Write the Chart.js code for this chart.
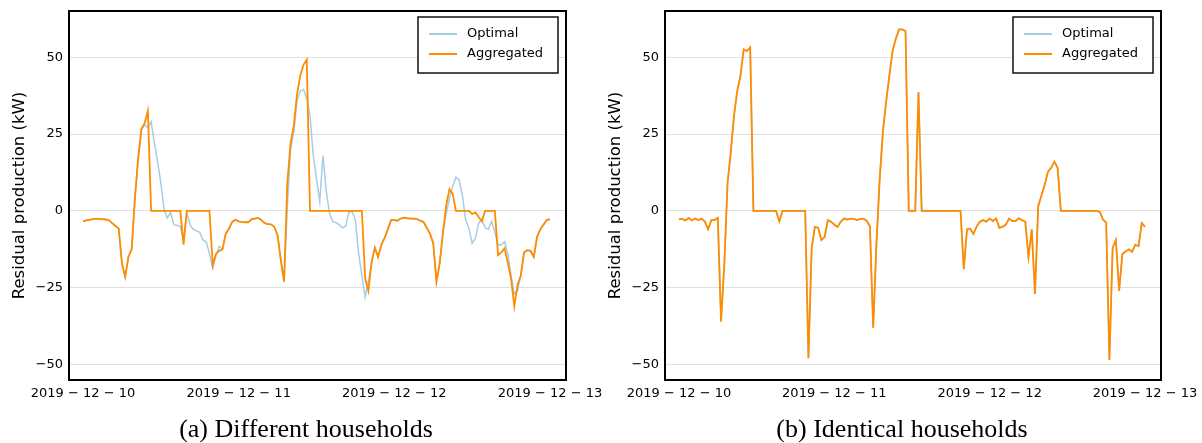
<!DOCTYPE html>
<html>
<head>
<meta charset="utf-8">
<script src="https://cdn.jsdelivr.net/npm/chart.js@4.4.1/dist/chart.umd.min.js"></script>
<style>
  html, body { margin: 0; padding: 0; background: #fff; }
  #wrap { position: relative; width: 1202px; height: 443px; overflow: hidden; }
  canvas { position: absolute; top: 0; }
  #chartA { left: 0; }
  #chartB { left: 600px; }
</style>
</head>
<body>
<div id="wrap">
  <canvas id="chartA" width="620" height="443"></canvas>
  <canvas id="chartB" width="602" height="443"></canvas>
</div>
<script>
// sample times: hours after 2019-12-10 00:00, one value every 30 minutes
const hours = Array.from({ length: 145 }, (_, i) => i / 2);
const dayTicks = [0, 24, 48, 72];
const dayLabels = ['2019 \u2212 12 \u2212 10', '2019 \u2212 12 \u2212 11', '2019 \u2212 12 \u2212 12', '2019 \u2212 12 \u2212 13'];
const yTicks = [-50, -25, 0, 25, 50];

// (a) different households, residual production in kW
const optimalA = [
  -3.4, -3.1, -2.9, -2.7, -2.6, -2.6, -2.7, -2.8, -3.1, -4.0, -4.9, -5.7,
  -17, -21.5, -15, -12.5, 4, 17, 26.5, 28, 27, 29, 22, 16,
  9, 0.5, -2.3, -0.5, -4.5, -4.7, -5, -9.5, -0.5, -4.5, -6, -6.5,
  -7, -9.5, -10, -14, -18.7, -14.5, -11.5, -12.5, -7.5, -5.8, -3.6, -2.9,
  -3.4, -3.6, -3.7, -3.7, -2.7, -2.5, -2.3, -3, -4, -4.3, -4.4, -5.2,
  -7.9, -16, -23, 1, 20, 25.6, 36, 39, 39.5, 36.5, 31, 18,
  10.5, 3, 18, 6.5, -0.8, -3.4, -3.8, -4.5, -5.5, -5, -0.3, -0.3,
  -3, -14, -21, -28, -23, -17, -12, -15, -11, -8.8, -6, -3,
  -3, -3.2, -2.5, -2.2, -2.4, -2.5, -2.5, -2.7, -3.2, -3.6, -5.5, -7.4,
  -10.5, -23, -17, -7, -1, 4, 8, 11, 10, 5, -3, -5.7,
  -10.5, -9, -4, -2.7, -5.5, -6, -3.5, -7, -11, -11, -10, -14,
  -21, -27, -26, -21, -13.5, -12.8, -13, -15, -8.5, -6, -4.5, -3,
  -2.7
];
const aggregatedA = [
  -3.4, -3.1, -2.9, -2.7, -2.6, -2.6, -2.7, -2.8, -3.1, -4.0, -4.9, -5.7,
  -17, -21.5, -15, -12.5, 4, 17, 26.5, 28.5, 32.5, 0, 0, 0,
  0, 0, 0, 0, 0, 0, 0, -11, 0, 0, 0, 0,
  0, 0, 0, 0, -17.6, -14, -13, -12.5, -7.5, -5.8, -3.6, -2.9,
  -3.4, -3.6, -3.7, -3.7, -2.7, -2.5, -2.3, -3, -4, -4.3, -4.4, -5.2,
  -7.9, -16, -23, 9, 22, 27.8, 38, 44, 47.5, 49.2, 0, 0,
  0, 0, 0, 0, 0, 0, 0, 0, 0, 0, 0, 0,
  0, 0, 0, -22, -26, -16.6, -12, -15, -11, -8.8, -6, -3,
  -3, -3.2, -2.5, -2.2, -2.4, -2.5, -2.5, -2.7, -3.2, -3.6, -5.5, -7.4,
  -10.5, -23, -17, -7, 1.8, 7, 5.5, 0, 0, 0, 0, 0,
  -1, -0.5, -2, -3.4, 0, 0, 0, 0, -14.4, -13.5, -12.2, -17,
  -22, -31, -24, -21, -13.5, -12.8, -13, -15, -8.5, -6, -4.5, -3,
  -2.7
];

// (b) identical households: optimal and aggregated coincide
const identicalB = [
  -2.8, -2.6, -3.1, -2.3, -3.1, -2.5, -3.0, -2.5, -3.5, -6, -3, -3,
  -2.3, -36, -17.6, 9, 19, 31, 39, 44, 52.5, 52, 53.2, 0,
  0, 0, 0, 0, 0, 0, 0, -3.4, 0, 0, 0, 0,
  0, 0, 0, 0, -47.9, -12, -5.2, -5.5, -9.5, -8.5, -3, -3.5,
  -4.5, -5.2, -3.5, -2.5, -2.8, -2.5, -2.6, -3.0, -2.6, -2.5, -3.2, -5,
  -38, -11, 10, 25.6, 35.4, 44, 52, 56, 59, 59, 58.5, 0,
  0, 0, 38.6, 0, 0, 0, 0, 0, 0, 0, 0, 0,
  0, 0, 0, 0, -19, -6, -5.8, -7.5, -5, -3.5, -3, -3.5,
  -2.5, -3.3, -2.5, -5.5, -5.2, -4.5, -2.5, -3.3, -3.3, -2.4, -3, -3.5,
  -15, -6, -27, 1.5, 5, 8.5, 12.7, 14, 16, 14, 0, 0,
  0, 0, 0, 0, 0, 0, 0, 0, 0, 0, -0.3, -2.8,
  -3.8, -48.5, -12, -9.5, -26, -14, -13.2, -12.5, -13.3, -11, -11.5, -4,
  -5.2
];

const OPTIMAL_COLOR = '#a6cee3';
const AGGREGATED_COLOR = '#ff8c00';
const SANS = '"DejaVu Sans"';

// frame, date labels, axis title, boxed legend and caption
const decor = {
  id: 'decor',
  afterDraw(chart, args, opts) {
    const { ctx, chartArea: a, scales: { x } } = chart;
    ctx.save();
    ctx.fillStyle = '#000';
    ctx.font = '13px ' + SANS;
    ctx.textAlign = 'center';
    ctx.textBaseline = 'alphabetic';
    dayTicks.forEach((h, i) => ctx.fillText(dayLabels[i], x.getPixelForValue(h), a.bottom + 17));

    ctx.save();
    ctx.translate(opts.titleX, (a.top + a.bottom) / 2);
    ctx.rotate(-Math.PI / 2);
    ctx.font = '16.5px ' + SANS;
    ctx.textBaseline = 'middle';
    ctx.fillText('Residual production (kW)', 0, 0);
    ctx.restore();

    ctx.strokeStyle = '#000';
    ctx.lineWidth = 2;
    ctx.strokeRect(a.left, a.top, a.right - a.left, a.bottom - a.top);

    const bw = 140, bh = 56;
    const bx = a.right - 8 - bw, by = a.top + 6;
    ctx.fillStyle = '#fff';
    ctx.fillRect(bx, by, bw, bh);
    ctx.strokeStyle = '#111';
    ctx.lineWidth = 1.5;
    ctx.strokeRect(bx, by, bw, bh);
    [['Optimal', OPTIMAL_COLOR], ['Aggregated', AGGREGATED_COLOR]].forEach(([label, color], i) => {
      const y = by + 17 + i * 20;
      ctx.strokeStyle = color;
      ctx.lineWidth = 2;
      ctx.beginPath();
      ctx.moveTo(bx + 11, y);
      ctx.lineTo(bx + 39, y);
      ctx.stroke();
      ctx.fillStyle = '#000';
      ctx.textAlign = 'left';
      ctx.textBaseline = 'middle';
      ctx.font = '13px ' + SANS;
      ctx.fillText(label, bx + 49, y);
    });

    ctx.fillStyle = '#000';
    ctx.font = '26px "Liberation Serif"';
    ctx.textAlign = 'center';
    ctx.textBaseline = 'alphabetic';
    ctx.fillText(opts.caption, opts.captionX, 437);
    ctx.restore();
  }
};

function makeChart(id, optimal, aggregated, axisWidth, padRight, caption, captionX, titleX) {
  const pts = arr => hours.map((h, i) => ({ x: h, y: arr[i] }));
  return new Chart(document.getElementById(id), {
    type: 'line',
    data: {
      datasets: [
        { label: 'Optimal', data: pts(optimal), borderColor: OPTIMAL_COLOR, borderWidth: 1.5, order: 2 },
        { label: 'Aggregated', data: pts(aggregated), borderColor: AGGREGATED_COLOR, borderWidth: 1.8, order: 1 }
      ]
    },
    options: {
      responsive: false,
      animation: false,
      events: [],
      layout: { padding: { top: 11, right: padRight, bottom: 63, left: 0 } },
      elements: { point: { radius: 0 }, line: { tension: 0 } },
      plugins: {
        legend: { display: false },
        tooltip: { enabled: false },
        decor: { caption, captionX, titleX }
      },
      scales: {
        x: { type: 'linear', min: -2.16, max: 74.47, display: false },
        y: {
          min: -55,
          max: 65,
          afterBuildTicks: s => { s.ticks = yTicks.map(v => ({ value: v })); },
          afterFit: s => { s.width = axisWidth; s.paddingTop = 0; s.paddingBottom = 0; },
          border: { display: false },
          grid: { color: '#e0e0e0', lineWidth: 1, drawTicks: false },
          ticks: {
            color: '#000',
            padding: 6,
            font: { family: 'DejaVu Sans', size: 13 },
            callback: v => String(v).replace('-', '\u2212')
          }
        }
      }
    },
    plugins: [decor]
  });
}

makeChart('chartA', optimalA, aggregatedA, 69, 54, '(a) Different households', 306, 19.5);
makeChart('chartB', identicalB, identicalB, 65, 41, '(b) Identical households', 302, 15.5);
</script>
</body>
</html>
